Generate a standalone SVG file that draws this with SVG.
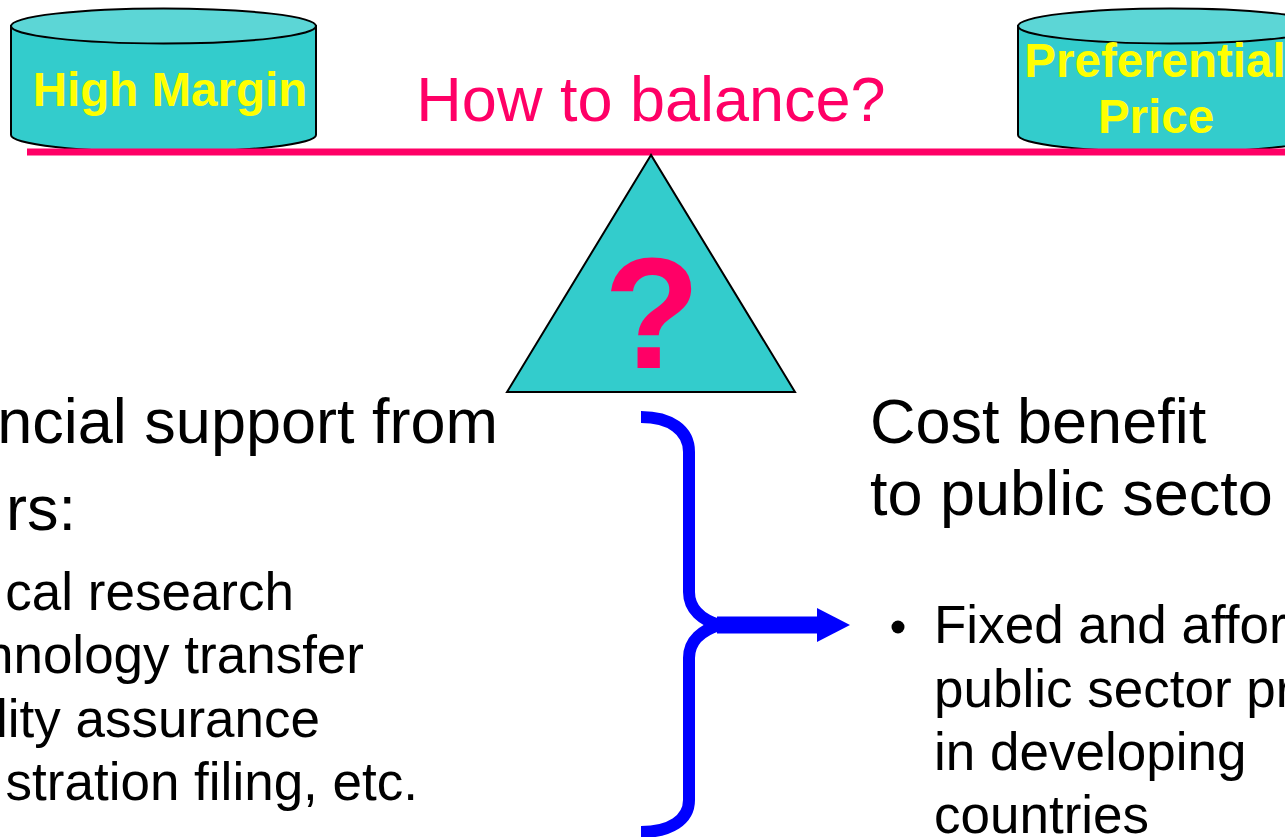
<svg xmlns="http://www.w3.org/2000/svg" width="1285" height="837" viewBox="0 0 1285 837">
<style>
.cylbody{fill:#33CCCC;stroke:#000;stroke-width:2}
.cyltop{fill:#5CD6D6;stroke:#000;stroke-width:2}
.cyltxt{font-family:"Liberation Sans",Arial,sans-serif;font-weight:bold;font-size:47.5px;fill:#FFFF00;text-anchor:middle}
.pink{fill:#FF0066}
.big{font-family:"Liberation Sans",Arial,sans-serif;font-size:63px;fill:#000}
.sub{font-family:"Liberation Sans",Arial,sans-serif;font-size:53px;fill:#000}
.end{text-anchor:end}
</style>
<defs>
<marker id="ah" markerUnits="userSpaceOnUse" markerWidth="34" markerHeight="36" refX="1" refY="17" orient="auto">
<polygon points="0,0 33,17 0,34" fill="#0000FF"/>
</marker>
</defs>
<rect width="1285" height="837" fill="#FFFFFF"/>

<g id="high-margin">
<path class="cylbody" d="M11,26 L11,135 A152.5,17 0 0 0 316,135 L316,26 Z"/>
<ellipse class="cyltop" cx="163.5" cy="26" rx="152.5" ry="17.5"/>
<text class="cyltxt" x="170" y="106">High Margin</text>
</g>

<g id="preferential-price">
<path class="cylbody" d="M1018,26 L1018,135 A152.5,17 0 0 0 1323,135 L1323,26 Z"/>
<ellipse class="cyltop" cx="1170.5" cy="26" rx="152.5" ry="17.5"/>
<text class="cyltxt" x="1155" y="77">Preferential</text>
<text class="cyltxt" x="1156" y="133">Price</text>
</g>

<g id="beam">
<rect class="pink" x="27" y="148.5" width="1258" height="7"/>
<text x="651" y="121" font-family="Liberation Sans, Arial, sans-serif" font-size="63" fill="#FF0066" text-anchor="middle">How to balance?</text>
</g>

<g id="fulcrum">
<polygon points="651,155 507,392 795,392" fill="#33CCCC" stroke="#000" stroke-width="2"/>
<text x="652" y="368" font-family="Liberation Sans, Arial, sans-serif" font-weight="bold" font-size="158" fill="#FF0066" text-anchor="middle">?</text>
</g>

<g id="financial-support">
<text class="big end" x="498" y="443">ncial support from</text>
<text class="big end" x="76" y="530">rs:</text>
<text class="sub end" x="294" y="610">cal research</text>
<text class="sub end" x="364" y="673">nnology transfer</text>
<text class="sub end" x="320" y="737">lity assurance</text>
<text class="sub end" x="418" y="800">stration filing, etc.</text>
</g>

<g id="cost-benefit">
<text class="big" x="870" y="443">Cost benefit</text>
<text class="big" x="870" y="515">to public secto</text>
<circle cx="898" cy="627" r="6.5" fill="#000"/>
<text class="sub" x="934" y="643">Fixed and affor</text>
<text class="sub" x="934" y="707">public sector pr</text>
<text class="sub" x="934" y="770">in developing</text>
<text class="sub" x="934" y="833">countries</text>
</g>

<g id="connectors" fill="none" stroke="#0000FF">
<path stroke-width="12" d="M641,417 C670,417 689,430 689,452 L689,592 C689,610 703,620 719,625 C703,630 689,640 689,658 L689,800 C689,820 670,832 641,832"/>
<path stroke-width="17" d="M717,625 L818,625" marker-end="url(#ah)"/>
</g>
</svg>
